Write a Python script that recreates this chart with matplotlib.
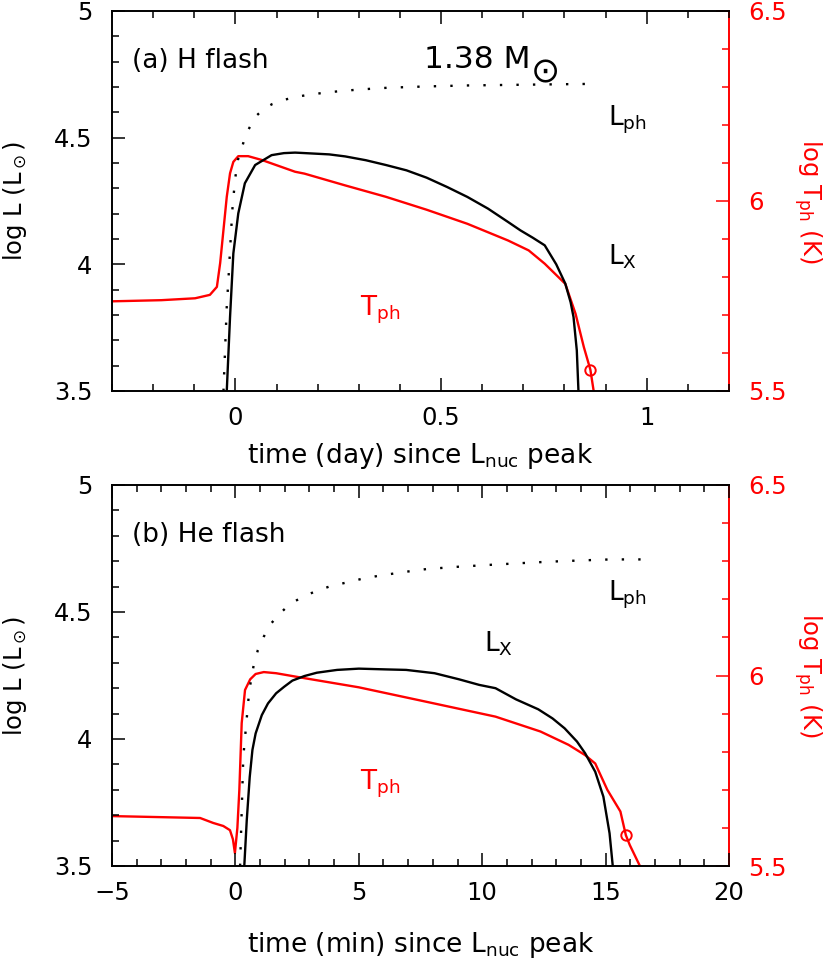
import numpy as np
import matplotlib
matplotlib.use("Agg")
import matplotlib.pyplot as plt
from matplotlib.ticker import MultipleLocator, FuncFormatter

plt.rcParams['font.family'] = ['DejaVu Sans']
plt.rcParams['mathtext.fontset'] = 'dejavusans'
plt.rcParams['font.size'] = 18

# ---- (a) H flash, time in days ----
ha_ph_t = [-0.029, -0.021, -0.017, -0.013, -0.0075, -0.001, 0.006, 0.012, 0.020, 0.031,
           0.050, 0.070, 0.090, 0.120, 0.150, 0.190, 0.230, 0.300, 0.370, 0.460, 0.560,
           0.700, 0.850]
ha_ph_L = [3.50, 3.833, 3.938, 4.056, 4.214, 4.333, 4.412, 4.438, 4.484, 4.53,
           4.585, 4.615, 4.633, 4.650, 4.662, 4.672, 4.680, 4.690, 4.697, 4.702, 4.706,
           4.709, 4.712]

ha_x_t = [-0.021, -0.013, -0.005, 0.007, 0.023, 0.048, 0.088, 0.118, 0.145, 0.158, 0.228,
          0.267, 0.317, 0.366, 0.416, 0.465, 0.515, 0.564, 0.614, 0.663, 0.693, 0.723,
          0.752, 0.780, 0.802, 0.815, 0.822, 0.830, 0.834]
ha_x_L = [3.50, 3.793, 4.043, 4.201, 4.32, 4.392, 4.431, 4.439, 4.441, 4.440, 4.434,
          4.426, 4.411, 4.392, 4.371, 4.342, 4.305, 4.266, 4.220, 4.167, 4.134, 4.105,
          4.075, 4.00, 3.924, 3.85, 3.792, 3.66, 3.50]

ha_T_t = [-0.300, -0.180, -0.098, -0.062, -0.045, -0.037, -0.029, -0.021, -0.013, -0.005,
          0.007, 0.031, 0.064, 0.145, 0.168, 0.267, 0.366, 0.465, 0.564, 0.663, 0.713,
          0.752, 0.802, 0.827, 0.847, 0.863, 0.871]
ha_T = [5.736, 5.739, 5.744, 5.753, 5.774, 5.837, 5.924, 6.011, 6.073, 6.103,
        6.118, 6.118, 6.108, 6.077, 6.072, 6.041, 6.011, 5.977, 5.940, 5.896, 5.870,
        5.835, 5.782, 5.703, 5.616, 5.556, 5.50]
ha_mark = (0.863, 5.556)

# ---- (b) He flash, time in minutes ----
hb_ph_t = [0.19, 0.32, 0.56, 0.74, 0.91, 1.15, 1.45, 1.78, 2.22, 2.7, 3.21, 3.8, 4.45,
           5.1, 5.77, 6.8, 7.74, 9.0, 10.2, 11.5, 12.7, 14.0, 15.2, 16.6]
hb_ph_L = [3.50, 3.93, 4.19, 4.29, 4.35, 4.403, 4.455, 4.492, 4.532, 4.558, 4.580, 4.600,
           4.615, 4.630, 4.642, 4.657, 4.669, 4.678, 4.685, 4.692, 4.698, 4.703, 4.707, 4.707]

hb_x_t = [0.36, 0.46, 0.58, 0.69, 0.82, 1.07, 1.32, 1.65, 1.98, 2.31, 2.8, 3.3, 4.12, 5.0,
          6.1, 6.92, 8.07, 9.06, 9.88, 10.54, 11.37, 12.27, 12.85, 13.34, 13.84, 14.17,
          14.58, 14.91, 15.16, 15.29]
hb_x_L = [3.50, 3.68, 3.85, 3.957, 4.022, 4.094, 4.14, 4.18, 4.206, 4.23, 4.248, 4.261,
          4.272, 4.277, 4.274, 4.272, 4.259, 4.235, 4.213, 4.200, 4.156, 4.117, 4.081,
          4.042, 3.99, 3.944, 3.871, 3.773, 3.629, 3.50]

hb_T_t = [-5.0, -2.14, -1.43, -0.90, -0.49, -0.22, -0.10, -0.02, 0.08, 0.16, 0.255, 0.39,
          0.60, 0.82, 1.15, 1.65, 2.8, 5.0, 7.74, 10.54, 12.36, 13.5, 14.17, 14.58, 15.07,
          15.6, 15.82, 15.98, 16.39]
hb_T = [5.631, 5.627, 5.626, 5.613, 5.605, 5.594, 5.57, 5.534, 5.60, 5.70, 5.875, 5.962,
        5.990, 6.004, 6.009, 6.006, 5.993, 5.969, 5.931, 5.892, 5.853, 5.818, 5.791, 5.769,
        5.70, 5.643, 5.581, 5.555, 5.50]
hb_mark = (15.82, 5.581)

RED = '#ff0000'
LW = 1.7
TICKFMT = FuncFormatter(lambda v, pos: ('%g' % round(v, 3)).replace('-', '\u2212'))


def style_axes(ax, ax2, xlim, xmajor, xminor):
    ax.set_xlim(*xlim)
    ax.set_ylim(3.5, 5.0)
    ax2.set_ylim(5.5, 6.5)
    ax.xaxis.set_major_locator(MultipleLocator(xmajor))
    ax.xaxis.set_minor_locator(MultipleLocator(xminor))
    ax.yaxis.set_major_locator(MultipleLocator(0.5))
    ax.yaxis.set_minor_locator(MultipleLocator(0.1))
    ax2.yaxis.set_major_locator(MultipleLocator(0.5))
    ax2.yaxis.set_minor_locator(MultipleLocator(0.1))
    ax.xaxis.set_major_formatter(TICKFMT)
    ax.yaxis.set_major_formatter(TICKFMT)
    ax2.yaxis.set_major_formatter(TICKFMT)
    ax.tick_params(which='both', direction='in', top=True, right=False, width=1.1,
                   labelsize=17.5)
    ax.tick_params(axis='x', pad=11)
    ax.tick_params(axis='y', pad=14)
    ax.tick_params(which='major', length=9.4)
    ax.tick_params(which='minor', length=5)
    ax2.tick_params(which='both', direction='in', colors=RED, width=1.1,
                    labelsize=17.5, pad=13.5)
    ax2.tick_params(which='major', length=9.4)
    ax2.tick_params(which='minor', length=5)
    ax.spines['right'].set_visible(False)
    for s in ['top', 'left', 'bottom']:
        ax2.spines[s].set_visible(False)
        ax.spines[s].set_linewidth(1.4)
    ax2.spines['right'].set_color(RED)
    ax2.spines['right'].set_linewidth(1.4)
    ax.set_ylabel(r'log L (L$_\odot$)', fontsize=17.5, va='center')
    ax.yaxis.set_label_coords(-0.157, 0.5)
    ax2.set_ylabel(r'log T$_{\rm ph}$ (K)', fontsize=17.5, color=RED, rotation=-90,
                   va='center')
    ax2.yaxis.set_label_coords(1.128, 0.5)
    ax.set_zorder(2)
    ax.patch.set_visible(False)


fig = plt.figure(figsize=(8.3, 9.61), dpi=100)

# panel (a)
axa = fig.add_axes([112 / 830, 1 - 391 / 961, 617 / 830, 380 / 961])
axa2 = axa.twinx()
axa2.plot(ha_T_t, ha_T, color=RED, lw=LW)
axa2.plot(*ha_mark, 'o', mfc='none', mec=RED, ms=7.5, mew=1.4)
axa.plot(ha_ph_t, ha_ph_L, color='black', lw=LW, ls=(0, (1, 6)))
axa.plot(ha_x_t, ha_x_L, color='black', lw=LW)
style_axes(axa, axa2, (-0.3, 1.2), 0.5, 0.1)
axa.set_xlabel(r'time (day) since L$_{\rm nuc}$ peak', fontsize=19, va='baseline')
axa.xaxis.set_label_coords(0.5, -0.189)
axa.text(-0.251, 4.775, '(a) H flash', fontsize=19)
axa.text(0.458, 4.775, '1.38 M', fontsize=22.5)
axa.text(0.751, 4.757, r'$\odot$', fontsize=25, ha='center', va='center')
axa.text(0.906, 4.55, r'L$_{\rm ph}$', fontsize=19)
axa.text(0.906, 4.00, r'L$_{\rm X}$', fontsize=19)
axa.text(0.304, 3.80, r'T$_{\rm ph}$', fontsize=19, color=RED)

# panel (b)
axb = fig.add_axes([112 / 830, 1 - 866 / 961, 617 / 830, 381 / 961])
axb2 = axb.twinx()
axb2.plot(hb_T_t, hb_T, color=RED, lw=LW)
axb2.plot(*hb_mark, 'o', mfc='none', mec=RED, ms=7.5, mew=1.4)
axb.plot(hb_ph_t, hb_ph_L, color='black', lw=LW, ls=(0, (1, 6)))
axb.plot(hb_x_t, hb_x_L, color='black', lw=LW)
style_axes(axb, axb2, (-5, 20), 5, 1)
axb.set_xlabel(r'time (min) since L$_{\rm nuc}$ peak', fontsize=19, va='baseline')
axb.xaxis.set_label_coords(0.5, -0.226)
axb.text(-4.19, 4.776, '(b) He flash', fontsize=19)
axb.text(15.1, 4.547, r'L$_{\rm ph}$', fontsize=19)
axb.text(10.06, 4.343, r'L$_{\rm X}$', fontsize=19)
axb.text(5.06, 3.80, r'T$_{\rm ph}$', fontsize=19, color=RED)

fig.savefig('out.png', dpi=100)
